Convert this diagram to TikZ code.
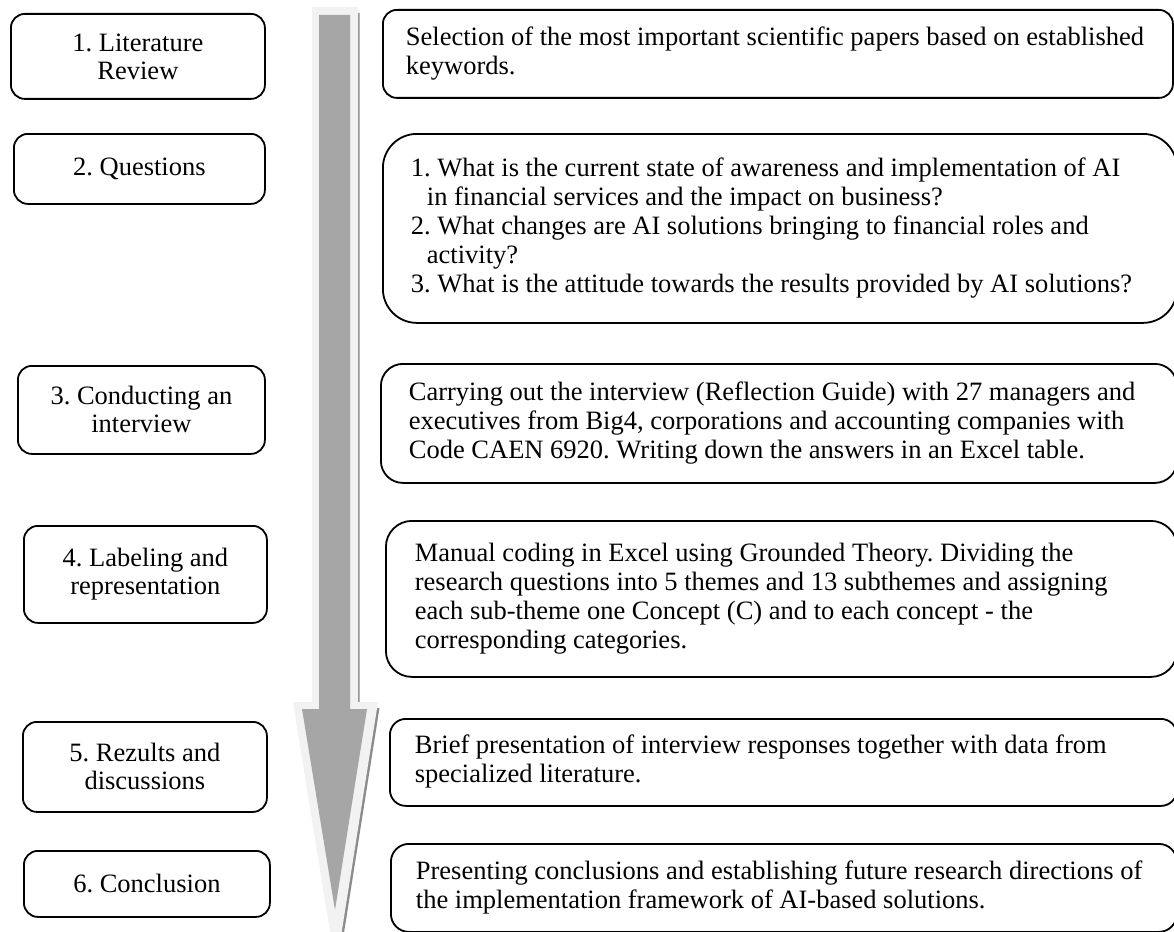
\documentclass[tikz,border=0pt]{standalone}
\usepackage{fontspec}
\setmainfont{Liberation Serif}
\frenchspacing
\definecolor{arrowlight}{HTML}{F2F2F2}
\definecolor{arrowdark}{HTML}{A6A6A6}
\definecolor{arrowshadow}{HTML}{8C8C8C}
\begin{document}
\begin{tikzpicture}[x=1pt,y=-1pt,
  lbox/.style={draw, line width=1.8pt, rounded corners=14pt, anchor=north west,
    align=center, inner sep=0pt, font=\frenchspacing\fontsize{26.5}{28}\selectfont},
  rbox/.style={draw, line width=1.8pt, anchor=north west, inner ysep=0pt,
    font=\frenchspacing\fontsize{26.5}{29}\selectfont}]
\useasboundingbox (0,0) rectangle (1174,931);
% arrow
\fill[arrowshadow] (313.5,13) -- (359.5,13) -- (359.5,708) -- (379.5,708) -- (337.5,974) -- (294.5,708) -- (313.5,708) -- cycle;
\fill[arrowlight] (312,7) -- (358,7) -- (358,702) -- (378,702) -- (336,968) -- (293,702) -- (312,702) -- cycle;
\fill[arrowdark] (319,15) -- (350,15) -- (350,709) -- (367,709) -- (335,910) -- (302,709) -- (319,709) -- cycle;
% left boxes
\node[lbox, minimum width=254pt, minimum height=85pt] (l1) at (10,13) {1. Literature\\Review};
\node[lbox, minimum width=251pt, minimum height=70pt] (l2) at (13,133) {2. Questions};
\node[lbox, minimum width=247pt, minimum height=88pt] (l3) at (17,365) {3. Conducting an\\interview};
\node[lbox, minimum width=243pt, minimum height=97pt] (l4) at (23,525) {4. Labeling and\\representation};
\node[lbox, minimum width=244pt, minimum height=90pt] (l5) at (22,721) {5. Rezults and\\discussions};
\node[lbox, minimum width=246pt, minimum height=66pt] (l6) at (23,850) {6. Conclusion};
% right boxes
\node[rbox, rounded corners=14pt, minimum width=790pt, minimum height=88pt, inner xsep=23pt] (r1) at (382,9)
  {\makebox[744pt][l]{\begin{tabular}{@{}l@{}}Selection of the most important scientific papers based on established\\keywords.\end{tabular}}};
\node[rbox, rounded corners=34pt, minimum width=794pt, minimum height=189pt, inner xsep=28pt] (r2) at (382,133)
  {\makebox[738pt][l]{\begin{tabular}{@{}l@{}}1. What is the current state of awareness and implementation of AI\\
  \hspace*{16pt}in financial services and the impact on business?\\
  2. What changes are AI solutions bringing to financial roles and\\
  \hspace*{16pt}activity?\\
  3. What is the attitude towards the results provided by AI solutions?\end{tabular}}};
\node[rbox, rounded corners=22pt, minimum width=796pt, minimum height=119pt, inner xsep=28pt] (r3) at (380,363)
  {\makebox[740pt][l]{\begin{tabular}{@{}l@{}}Carrying out the interview (Reflection Guide) with 27 managers and\\
  executives from Big4, corporations and accounting companies with\\
  Code CAEN 6920. Writing down the answers in an Excel table.\end{tabular}}};
\node[rbox, rounded corners=26pt, minimum width=791pt, minimum height=156pt, inner xsep=29pt] (r4) at (385,520)
  {\makebox[733pt][l]{\begin{tabular}{@{}l@{}}Manual coding in Excel using Grounded Theory. Dividing the\\
  research questions into 5 themes and 13 subthemes and assigning\\
  each sub-theme one Concept (C) and to each concept - the\\
  corresponding categories.\end{tabular}}};
\node[rbox, rounded corners=16pt, minimum width=787pt, minimum height=87pt, inner xsep=25pt] (r5) at (389,718)
  {\makebox[737pt][l]{\begin{tabular}{@{}l@{}}Brief presentation of interview responses together with data from\\
  specialized literature.\end{tabular}}};
\node[rbox, rounded corners=18pt, minimum width=786pt, minimum height=88pt, inner xsep=25pt] (r6) at (390,843)
  {\makebox[736pt][l]{\begin{tabular}{@{}l@{}}Presenting conclusions and establishing future research directions of\\
  the implementation framework of AI-based solutions.\end{tabular}}};
\end{tikzpicture}
\end{document}
